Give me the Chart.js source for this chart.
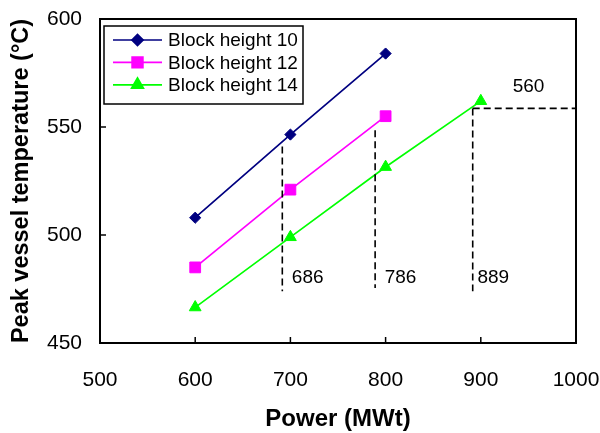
<!DOCTYPE html>
<html><head><meta charset="utf-8">
<script src="https://cdn.jsdelivr.net/npm/chart.js@4.4.1/dist/chart.umd.min.js"></script>
<style>html,body{margin:0;padding:0;background:#fff}#wrap{width:600px;height:433px}</style>
</head><body><div id="wrap"><canvas id="c" width="600" height="433"></canvas></div>
<script>
// ---- data ----
const powerMW = [600, 700, 800, 900];
const block10 = [508, 546.5, 584];
const block12 = [485, 521, 555];
const block14 = [466.5, 499, 531.5, 562];
const seriesLabels = ['Block height 10', 'Block height 12', 'Block height 14'];
const xTicks = [500, 600, 700, 800, 900, 1000];
const yTicks = [450, 500, 550, 600];
// dashed guide lines (data coordinates)
const guideX = [691.5, 789, 891.5];
const guideTop = [541, 548.5, 558.6];
const guideBottom = [474, 475.5, 474];
const guideLabels = ['686', '786', '889'];
const guideLabelX = [701.5, 799, 896.5];
const guideLabelY = 480;
const hGuideY = 558.6;
const hGuideX = [891.5, 1000];
const hGuideLabel = '560';
const hGuideLabelPos = [933.5, 568.5];

const colors = ['#000080', '#ff00ff', '#00ff00'];
const styles = ['rectRot', 'rect', 'triangle'];
const radii = [5.6, 7.6, 6.8];
const FONT = "'Liberation Sans', Arial, sans-serif";

function pts(ys) { return ys.map((y, i) => ({x: powerMW[i], y})); }
const seriesValues = [block10, block12, block14];

const datasets = seriesValues.map((v, i) => ({
  label: seriesLabels[i],
  data: pts(v),
  borderColor: colors[i],
  backgroundColor: colors[i],
  borderWidth: 1.7,
  pointStyle: styles[i],
  pointRadius: radii[i],
  pointBorderWidth: 1,
  pointBackgroundColor: colors[i],
  pointBorderColor: colors[i],
  tension: 0,
  clip: false
}));

const decor = {
  id: 'decor',
  afterDatasetsDraw(chart) {
    const ctx = chart.ctx, a = chart.chartArea;
    const xs = chart.scales.x, ys = chart.scales.y;
    ctx.save();
    // dashed guides
    ctx.strokeStyle = '#000'; ctx.lineWidth = 1.6; ctx.setLineDash([7, 4]);
    guideX.forEach((gx, i) => {
      const px = xs.getPixelForValue(gx);
      ctx.beginPath();
      ctx.moveTo(px, ys.getPixelForValue(guideTop[i]));
      ctx.lineTo(px, ys.getPixelForValue(guideBottom[i]));
      ctx.stroke();
    });
    ctx.beginPath();
    ctx.moveTo(xs.getPixelForValue(hGuideX[0]), ys.getPixelForValue(hGuideY));
    ctx.lineTo(xs.getPixelForValue(hGuideX[1]), ys.getPixelForValue(hGuideY));
    ctx.stroke();
    ctx.setLineDash([]);
    // labels
    ctx.fillStyle = '#000'; ctx.font = '19px ' + FONT;
    ctx.textAlign = 'left'; ctx.textBaseline = 'middle';
    guideLabels.forEach((t, i) => {
      ctx.fillText(t, xs.getPixelForValue(guideLabelX[i]), ys.getPixelForValue(guideLabelY));
    });
    ctx.fillText(hGuideLabel, xs.getPixelForValue(hGuideLabelPos[0]), ys.getPixelForValue(hGuideLabelPos[1]));
    // frame
    ctx.lineWidth = 2; ctx.strokeStyle = '#000';
    ctx.strokeRect(a.left, a.top, a.right - a.left, a.bottom - a.top);
    // inward ticks
    ctx.lineWidth = 1.5;
    xTicks.forEach(v => {
      const px = xs.getPixelForValue(v);
      ctx.beginPath(); ctx.moveTo(px, a.bottom); ctx.lineTo(px, a.bottom - 6); ctx.stroke();
    });
    yTicks.forEach(v => {
      const py = ys.getPixelForValue(v);
      ctx.beginPath(); ctx.moveTo(a.left, py); ctx.lineTo(a.left + 6, py); ctx.stroke();
    });
    // legend
    const bx = a.left + 4, by = a.top + 7, bw = 199, bh = 78;
    ctx.fillStyle = '#fff'; ctx.fillRect(bx, by, bw, bh);
    ctx.lineWidth = 1.5; ctx.strokeRect(bx, by, bw, bh);
    seriesLabels.forEach((lab, i) => {
      const cy = by + 14 + i * 22.4;
      ctx.strokeStyle = colors[i]; ctx.lineWidth = 1.7;
      ctx.beginPath(); ctx.moveTo(bx + 9, cy); ctx.lineTo(bx + 58, cy); ctx.stroke();
      ctx.fillStyle = colors[i];
      Chart.helpers.drawPoint(ctx, {pointStyle: styles[i], radius: radii[i], borderWidth: 1, rotation: 0}, bx + 33.5, cy);
      ctx.fill();
      ctx.fillStyle = '#000'; ctx.font = '19px ' + FONT;
      ctx.textAlign = 'left'; ctx.textBaseline = 'middle';
      ctx.fillText(lab, bx + 64, cy + 1);
    });
    ctx.restore();
  }
};

new Chart(document.getElementById('c'), {
  type: 'line',
  data: {datasets},
  plugins: [decor],
  options: {
    responsive: false,
    devicePixelRatio: 1,
    animation: false,
    layout: {autoPadding: false, padding: {top: 19, right: 24, left: 0, bottom: 0}},
    plugins: {legend: {display: false}, tooltip: {enabled: false}},
    scales: {
      x: {
        type: 'linear', min: 500, max: 1000,
        afterBuildTicks: s => { s.ticks = xTicks.map(v => ({value: v})); },
        afterFit: s => { s.height = 90; s.paddingLeft = 0; s.paddingRight = 0; },
        grid: {display: false, drawTicks: false},
        border: {display: false},
        ticks: {color: '#000', font: {family: FONT, size: 21}, padding: 25, maxRotation: 0, autoSkip: false,
          callback: v => String(v)},
        title: {display: true, text: 'Power (MWt)', color: '#000',
          font: {family: FONT, size: 24, weight: 'bold', lineHeight: 1}, padding: {top: 0, bottom: 2}}
      },
      y: {
        type: 'linear', min: 450, max: 600,
        afterBuildTicks: s => { s.ticks = yTicks.map(v => ({value: v})); },
        afterFit: s => { s.width = 100; s.paddingTop = 0; s.paddingBottom = 0; },
        grid: {display: false, drawTicks: false},
        border: {display: false},
        ticks: {color: '#000', font: {family: FONT, size: 21}, padding: 18, autoSkip: false,
          callback: v => String(v)},
        title: {display: true, text: 'Peak vessel temperature (°C)', color: '#000',
          font: {family: FONT, size: 23.5, weight: 'bold', lineHeight: 1}, padding: {top: 10, bottom: 0}}
      }
    }
  }
});
</script></body></html>
